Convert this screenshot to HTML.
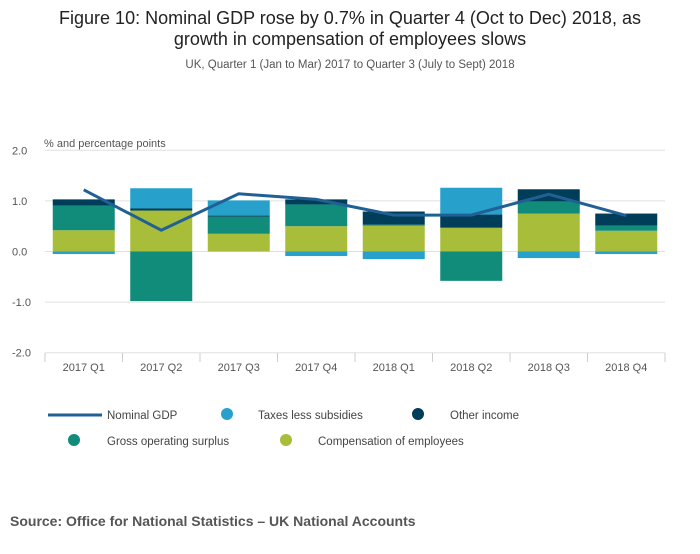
<!DOCTYPE html>
<html><head><meta charset="utf-8"><style>
body{margin:0;background:#fff;font-family:"Liberation Sans",sans-serif;}
svg text{font-family:"Liberation Sans",sans-serif;}
</style></head><body>
<svg width="700" height="549">
<text x="350" y="24" text-anchor="middle" font-size="18" fill="#222">Figure 10: Nominal GDP rose by 0.7% in Quarter 4 (Oct to Dec) 2018, as</text>
<text x="350" y="45" text-anchor="middle" font-size="18" fill="#222">growth in compensation of employees slows</text>
<text x="350" y="68" text-anchor="middle" font-size="11.5" fill="#555">UK, Quarter 1 (Jan to Mar) 2017 to Quarter 3 (July to Sept) 2018</text>
<text x="44" y="147" font-size="11" fill="#555">% and percentage points</text>
<g id="grid"></g><g id="bars"></g><g id="line"></g><g id="xaxis"></g>
<g>
<line x1="48" y1="415" x2="102" y2="415" stroke="#206095" stroke-width="3"/>
<text x="107" y="419" font-size="11.5" fill="#444">Nominal GDP</text>
<circle cx="227" cy="414" r="6" fill="#27a0cc"/>
<text x="258" y="419" font-size="11.5" fill="#444">Taxes less subsidies</text>
<circle cx="418" cy="414" r="6" fill="#003d59"/>
<text x="450" y="419" font-size="11.5" fill="#444">Other income</text>
<circle cx="74" cy="440" r="6" fill="#118c7b"/>
<text x="107" y="445" font-size="11.5" fill="#444">Gross operating surplus</text>
<circle cx="286" cy="440" r="6" fill="#a8bd3a"/>
<text x="318" y="445" font-size="11.5" fill="#444">Compensation of employees</text>
</g>
<text x="10" y="526" font-size="14" font-weight="bold" fill="#555">Source: Office for National Statistics – UK National Accounts</text>
</svg>
<script>
const categories=["2017 Q1","2017 Q2","2017 Q3","2017 Q4","2018 Q1","2018 Q2","2018 Q3","2018 Q4"];
const comp=[0.42,0.81,0.35,0.50,0.51,0.47,0.75,0.41];
const gos=[0.49,-0.98,0.34,0.43,0.02,-0.58,0.24,0.10];
const taxes=[-0.05,0.40,0.30,-0.09,-0.15,0.53,-0.13,-0.05];
const other=[0.12,0.04,0.02,0.10,0.26,0.26,0.24,0.24];
const gdp=[1.22,0.42,1.14,1.03,0.72,0.72,1.13,0.71];
const yTicks=[2,1,0,-1,-2];
const yTickLabels=["2.0","1.0","0.0","-1.0","-2.0"];
const NS="http://www.w3.org/2000/svg";
const x0=45,x1=665,bw=(x1-x0)/categories.length;
const y=v=>251.5-v*50.6;
const xc=i=>x0+bw*(i+0.5);
function mk(t,a,p){const e=document.createElementNS(NS,t);for(const k in a)e.setAttribute(k,a[k]);p.appendChild(e);return e;}
const grid=document.getElementById('grid');
yTicks.forEach((t,i)=>{const l=mk('line',{x1:x0,x2:x1,y1:y(t),y2:y(t),stroke:'#e0e0e0','stroke-width':1},grid);


const tx=mk('text',{x:12,y:y(t)+4,'font-size':11,fill:'#555'},grid);tx.textContent=yTickLabels[i];

});
const bars=document.getElementById('bars');
const series=[[comp,'#a8bd3a','comp'],[gos,'#118c7b','gos'],[other,'#003d59','other'],[taxes,'#27a0cc','taxes']];
categories.forEach((c,i)=>{let pos=0,neg=0;
series.forEach(([arr,col,nm])=>{const v=arr[i];let a,b;
if(v>=0){a=pos;b=pos+v;pos=b;}else{a=neg;b=neg+v;neg=b;}
const r=mk('rect',{x:xc(i)-31,width:62,y:Math.min(y(a),y(b)),height:Math.abs(y(a)-y(b)),fill:col},bars);

});});
const lg=document.getElementById('line');
const p=mk('polyline',{points:gdp.map((v,i)=>xc(i)+','+y(v)).join(' '),fill:'none',stroke:'#206095','stroke-width':3},lg);


const xa=document.getElementById('xaxis');
categories.forEach((c,i)=>{const t=mk('line',{x1:x0+bw*i,x2:x0+bw*i,y1:353,y2:362,stroke:'#ccc'},xa);


const tx=mk('text',{x:xc(i),y:371,'text-anchor':'middle','font-size':11,fill:'#555'},xa);tx.textContent=c;

});
const t=mk('line',{x1:x1,x2:x1,y1:353,y2:362,stroke:'#ccc'},xa);


</script>
</body></html>
